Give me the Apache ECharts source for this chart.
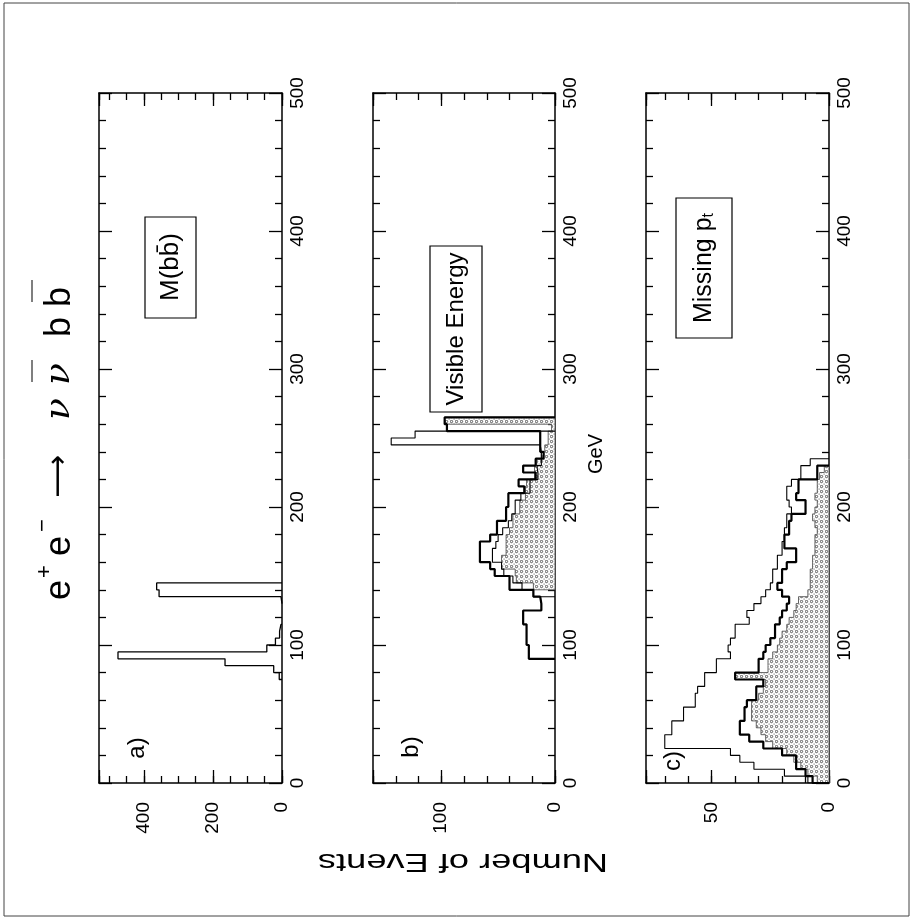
<!DOCTYPE html>
<html><head><meta charset="utf-8">
<script src="https://cdn.jsdelivr.net/npm/echarts@6/dist/echarts.min.js"></script>
<style>html,body{margin:0;padding:0;background:#fff}#c{width:912px;height:924px}</style>
</head><body><div id="c"></div>
<script>
// ---------- data (GeV bins of 5, counts = Number of Events) ----------
var binWidth = 5;
var gevTicks = [0, 100, 200, 300, 400, 500];

// a) M(bb̄)
var massZStart = 75;
var massZ = [8, 24, 165, 475, 44, 19, 7, 3];
var massHStart = 130;
var massH = [3, 356, 363];

// b) Visible Energy
var visShadedStart = 140;
var visShaded = [19, 34, 35, 47, 47, 43, 43, 43, 40, 37, 37, 31, 31, 26, 26, 25, 18, 18, 16, 12, 9, 6, 6, 3, 97];
var visThickStart = 90;
var visThick = [23, 23, 25, 25, 25, 28, 28, 12, 13, 19, 40, 40, 53, 57, 66, 66, 66, 57, 51, 51, 43, 43, 41, 41, 27, 32, 17, 28, 17, 10, 13, 13, 13, 95, 97];
var visThinStart = 135;
var visThin = [19, 29, 37, 45, 47, 55, 55, 52, 50, 46, 41, 38, 35, 35, 30, 22, 22, 15, 16, 12, 12, 13, 144, 123];

// c) Missing pt
var ptShadedStart = 0;
var ptShaded = [5, 9, 12, 15, 18, 24, 27, 29, 31, 33, 33, 33, 30, 28, 27, 40, 26, 26, 24, 22, 21, 20, 18, 17, 15, 14, 13, 9, 8, 8, 8, 7, 7, 6, 6, 6, 5, 6, 7, 6, 5, 6, 5, 5, 4, 2];
var ptThickStart = 0;
var ptThick = [7, 10, 14, 14, 20, 28, 34, 38, 38, 36, 36, 35, 31, 31, 28, 40, 30, 30, 28, 27, 25, 23, 23, 21, 20, 18, 17, 20, 22, 20, 20, 18, 14, 14, 19, 19, 17, 17, 16, 10, 10, 14, 13, 13, 5, 5];
var ptThinStart = 0;
var ptThin = [9, 19, 32, 38, 42, 70, 70, 67, 67, 62, 62, 57, 57, 56, 53, 53, 48, 48, 42, 43, 42, 40, 40, 34, 35, 32, 29, 27, 25, 24, 24, 22, 22, 20, 20, 19, 19, 18, 18, 16, 17, 18, 18, 16, 12, 12, 8];

// event axes per panel
var eventsMax = [530, 160, 78];
var eventsMajor = [200, 100, 50];
var eventsMinor = [50, 20, 10];

// ---------- helpers ----------
function stepPoints(start, counts) {
  var pts = [[0, start]];
  for (var i = 0; i < counts.length; i++) {
    var lo = start + i * binWidth, hi = lo + binWidth;
    pts.push([counts[i], lo]);
    pts.push([counts[i], hi]);
  }
  pts.push([0, start + counts.length * binWidth]);
  return pts;
}

var pc = document.createElement('canvas');
pc.width = 5; pc.height = 5;
var g = pc.getContext('2d');
g.fillStyle = '#ffffff'; g.fillRect(0, 0, 5, 5);
g.strokeStyle = '#555555'; g.lineWidth = 1;
g.beginPath(); g.arc(1.5, 1.5, 1.2, 0, Math.PI * 2); g.stroke();
g.fillStyle = '#8a8a8a'; g.fillRect(3.5, 3.5, 1.2, 1.2);
var pattern = { image: pc, repeat: 'repeat' };

function lineSeries(panel, start, counts, width) {
  return {
    type: 'line', xAxisIndex: 4 * panel, yAxisIndex: 2 * panel,
    data: stepPoints(start, counts), showSymbol: false, symbol: 'none',
    lineStyle: { color: '#000', width: width }, animation: false, silent: true, z: 3
  };
}
function shadeSeries(panel, start, counts) {
  return {
    type: 'custom', xAxisIndex: 4 * panel, yAxisIndex: 2 * panel,
    data: [[0, start]], silent: true, animation: false, z: 2,
    renderItem: function (params, api) {
      var pts = stepPoints(start, counts).map(function (p) { return api.coord(p); });
      return { type: 'polygon', shape: { points: pts }, style: { fill: pattern, stroke: '#555', lineWidth: 0.9 } };
    }
  };
}

// ---------- layout ----------
var FONT = 'Liberation Sans';
var grids = [
  { left: 99, top: 93, width: 183, height: 690 },
  { left: 373, top: 93, width: 182, height: 690 },
  { left: 646, top: 93, width: 183, height: 690 }
];
grids.forEach(function (gr) { gr.containLabel = false; gr.outerBoundsMode = 'none'; });

var axLine = { show: true, onZero: false, lineStyle: { color: '#000', width: 1.5 } };
var tickStyle = { color: '#000', width: 1.3 };
var xAxes = [], yAxes = [];
grids.forEach(function (gr, i) {
  ['bottom', 'top'].forEach(function (pos) {
    xAxes.push({
      gridIndex: i, type: 'value', min: 0, max: eventsMax[i], interval: eventsMinor[i], inverse: true,
      position: pos, axisLine: axLine, splitLine: { show: false },
      axisTick: { show: true, inside: true, length: 7, lineStyle: tickStyle },
      axisLabel: { show: false }
    });
    var major = eventsMajor[i];
    xAxes.push({
      gridIndex: i, type: 'value', min: 0, max: eventsMax[i], interval: major, inverse: true,
      position: pos, axisLine: { show: false, onZero: false }, splitLine: { show: false },
      axisTick: { show: true, inside: true, length: 13, lineStyle: tickStyle },
      axisLabel: {
        show: pos === 'bottom', rotate: 90, margin: 19, fontSize: 19, fontFamily: FONT, color: '#000',
        formatter: function (v) { return (v % major === 0) ? String(v) : ''; }
      }
    });
  });
  ['right', 'left'].forEach(function (pos) {
    yAxes.push({
      gridIndex: i, type: 'value', min: 0, max: 500, interval: 100, position: pos,
      axisLine: axLine, splitLine: { show: false }, minorSplitLine: { show: false },
      axisTick: { show: true, inside: true, length: 13, lineStyle: tickStyle },
      minorTick: { show: true, splitNumber: 5, length: 7, lineStyle: tickStyle },
      axisLabel: {
        show: pos === 'right', rotate: 90, margin: 6, fontSize: 19, fontFamily: FONT, color: '#000',
        formatter: function (v) { return gevTicks.indexOf(v) >= 0 ? String(v) : ''; }
      }
    });
  });
});

var series = [
  lineSeries(0, massZStart, massZ, 1.3),
  lineSeries(0, massHStart, massH, 1.3),
  shadeSeries(1, visShadedStart, visShaded),
  lineSeries(1, visThinStart, visThin, 1.1),
  lineSeries(1, visThickStart, visThick, 2.2),
  shadeSeries(2, ptShadedStart, ptShaded),
  lineSeries(2, ptThinStart, ptThin, 1.1),
  lineSeries(2, ptThickStart, ptThick, 2.2)
];

function rtext(x, y, text, size, extra) {
  var st = { text: text, font: size + 'px "' + FONT + '"', fill: '#000', align: 'center', verticalAlign: 'middle' };
  if (extra) for (var k in extra) st[k] = extra[k];
  return { type: 'text', x: x, y: y, rotation: Math.PI / 2, style: st, silent: true, z: 1 };
}
function box(x, y, w, h) {
  return { type: 'rect', shape: { x: x, y: y, width: w, height: h }, style: { fill: 'none', stroke: '#000', lineWidth: 1.2 }, z: 1, silent: true };
}

var tf = function (font) { return { font: font, fill: '#000', align: 'left', verticalAlign: 'middle' }; };
var titleGroup = {
  type: 'group', x: 60, y: 600, rotation: Math.PI / 2, silent: true,
  children: [
    { type: 'text', x: 0, y: 0, style: Object.assign({ text: 'e' }, tf('36px "Liberation Sans"')) },
    { type: 'text', x: 22, y: -15, style: Object.assign({ text: '+' }, tf('22px "Liberation Sans"')) },
    { type: 'text', x: 44, y: 0, style: Object.assign({ text: 'e' }, tf('36px "Liberation Sans"')) },
    { type: 'text', x: 68, y: -17, style: Object.assign({ text: '\u2212' }, tf('22px "Liberation Sans"')) },
    { type: 'text', x: 102, y: -1, style: Object.assign({ text: '\u27f6' }, tf('30px "DejaVu Sans"')) },
    { type: 'text', x: 180, y: 0, style: Object.assign({ text: '\u03bd' }, tf('italic 36px "DejaVu Serif"')) },
    { type: 'text', x: 215, y: 0, style: Object.assign({ text: '\u03bd' }, tf('italic 36px "DejaVu Serif"')) },
    { type: 'line', shape: { x1: 218, y1: -28, x2: 240, y2: -28 }, style: { stroke: '#555', lineWidth: 1.5 } },
    { type: 'text', x: 263, y: 0, style: Object.assign({ text: 'b' }, tf('36px "Liberation Sans"')) },
    { type: 'text', x: 293, y: 0, style: Object.assign({ text: 'b' }, tf('36px "Liberation Sans"')) },
    { type: 'line', shape: { x1: 298, y1: -28, x2: 320, y2: -28 }, style: { stroke: '#555', lineWidth: 1.5 } }
  ]
};

var graphics = [
  { type: 'rect', shape: { x: 4, y: 3, width: 905, height: 913 }, style: { fill: 'none', stroke: '#444', lineWidth: 1 }, silent: true },
  titleGroup,
  box(145, 217, 51, 101),
  rtext(171, 267, 'M(bb\u0304)', 26),
  box(430, 246, 52, 166),
  rtext(456, 329, 'Visible Energy', 24),
  box(676, 198, 56, 140),
  rtext(704, 268, 'Missing p{t|t}', 25, { rich: { t: { font: '16px "' + FONT + '"', verticalAlign: 'bottom', padding: [10, 0, 0, 0] } } }),
  rtext(137, 748, 'a)', 24),
  rtext(411, 747, 'b)', 24),
  rtext(673, 761, 'c)', 24),
  rtext(596, 454, 'GeV', 20),
  { type: 'text', x: 463, y: 861, rotation: Math.PI, scaleX: 1.45, silent: true,
    style: { text: 'Number of Events', font: '25px "' + FONT + '"', fill: '#000', align: 'center', verticalAlign: 'middle' } }
];

var chart = echarts.init(document.getElementById('c'), null, { renderer: 'canvas', width: 912, height: 924 });
chart.setOption({
  backgroundColor: '#fff',
  animation: false,
  grid: grids,
  xAxis: xAxes,
  yAxis: yAxes,
  series: series,
  graphic: { elements: graphics }
});
</script>
</body></html>
